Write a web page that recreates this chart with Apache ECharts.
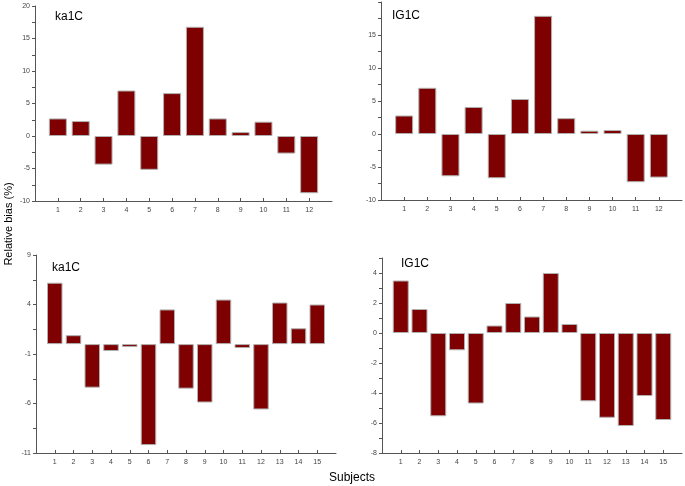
<!DOCTYPE html>
<html><head><meta charset="utf-8">
<script src="https://cdn.jsdelivr.net/npm/echarts@6/dist/echarts.min.js"></script>
<style>html,body{margin:0;padding:0;background:#fff}#c{width:685px;height:486px}</style>
</head><body><div id="c"></div>
<script>
var cats12 = ['1','2','3','4','5','6','7','8','9','10','11','12'];
var cats15 = ['1','2','3','4','5','6','7','8','9','10','11','12','13','14','15'];
var ka1C_a = [2.7, 2.3, -4.4, 7.0, -5.2, 6.6, 16.8, 2.7, 0.6, 2.2, -2.7, -8.8];
var IG1C_a = [2.8, 7.0, -6.4, 4.1, -6.7, 5.3, 17.9, 2.4, 0.5, 0.6, -7.3, -6.6];
var ka1C_b = [6.2, 0.9, -4.4, -0.7, -0.3, -10.2, 3.5, -4.5, -5.9, 4.5, -0.4, -6.6, 4.2, 1.6, 4.0];
var IG1C_b = [3.5, 1.6, -5.55, -1.15, -4.7, 0.5, 2.0, 1.1, 4.0, 0.6, -4.55, -5.65, -6.2, -4.2, -5.8];
var panelTitles = ['ka1C', 'IG1C', 'ka1C', 'IG1C'];
var yAxisTitle = 'Relative bias (%)';
var xAxisTitle = 'Subjects';

var FONT = 'Liberation Sans, Arial, sans-serif';
var axisCol = '#555';
var grids = [
  {left: 35, top: 6, width: 297, height: 195},
  {left: 381, top: 2, width: 303, height: 198},
  {left: 36, top: 255, width: 300, height: 198},
  {left: 382, top: 258, width: 302, height: 195}
];
var yRanges = [
  {min: -10, max: 20, interval: 5, hide: null},
  {min: -10, max: 20, interval: 5, hide: 20},
  {min: -11, max: 9, interval: 5, hide: null},
  {min: -8, max: 5, interval: 2, hide: 5}
];
var datasets = [[cats12, ka1C_a], [cats12, IG1C_a], [cats15, ka1C_b], [cats15, IG1C_b]];
var barWidths = [18, 18, 15.5, 16];

function padCats(c) { return [''].concat(c).concat(['']); }
function padVals(v) { return [null].concat(v).concat([null]); }

var xAxes = [], yAxes = [], series = [], titles = [];
datasets.forEach(function (d, i) {
  xAxes.push({
    type: 'category', gridIndex: i, data: padCats(d[0]), boundaryGap: false,
    axisLine: {onZero: false, lineStyle: {color: axisCol, width: 1}},
    axisTick: {show: true, length: 3, inside: true, lineStyle: {color: axisCol},
      interval: function (idx, val) { return val !== ''; }},
    axisLabel: {fontSize: 7, color: '#444', fontFamily: FONT, margin: 6, interval: 0},
    splitLine: {show: false}
  });
  var r = yRanges[i];
  yAxes.push({
    type: 'value', gridIndex: i, min: r.min, max: r.max, interval: r.interval,
    axisLine: {show: true, lineStyle: {color: axisCol, width: 1}},
    axisTick: {show: true, length: 3, lineStyle: {color: axisCol}},
    minorTick: {show: true, splitNumber: 2, length: 3, lineStyle: {color: axisCol}},
    axisLabel: {fontSize: 7, color: '#444', fontFamily: FONT, margin: 5,
      formatter: (function (h) { return function (v) { return v === h ? '' : String(v); }; })(r.hide)},
    splitLine: {show: false}
  });
  series.push({
    type: 'bar', xAxisIndex: i, yAxisIndex: i, data: padVals(d[1]),
    barWidth: barWidths[i],
    itemStyle: {color: '#7f0000', borderColor: '#b0b0b0', borderWidth: 1},
    animation: false
  });
});

var titlePos = [{left: 55, top: 11}, {left: 392, top: 10}, {left: 52, top: 262}, {left: 401, top: 258}];
panelTitles.forEach(function (t, i) {
  titles.push({text: t, left: titlePos[i].left, top: titlePos[i].top, padding: 0,
    textStyle: {fontSize: 12, fontWeight: 'normal', color: '#000', fontFamily: FONT}});
});

var chart = echarts.init(document.getElementById('c'));
chart.setOption({
  animation: false,
  title: titles,
  grid: grids,
  xAxis: xAxes,
  yAxis: yAxes,
  series: series,
  graphic: [
    {type: 'text', x: 3, y: 224, rotation: Math.PI / 2,
      style: {text: yAxisTitle, fontSize: 11, fill: '#000', fontFamily: FONT, align: 'center', verticalAlign: 'top'}},
    {type: 'text', x: 352, y: 478,
      style: {text: xAxisTitle, fontSize: 12, fill: '#000', fontFamily: FONT, align: 'center', verticalAlign: 'middle'}}
  ]
});
</script></body></html>
